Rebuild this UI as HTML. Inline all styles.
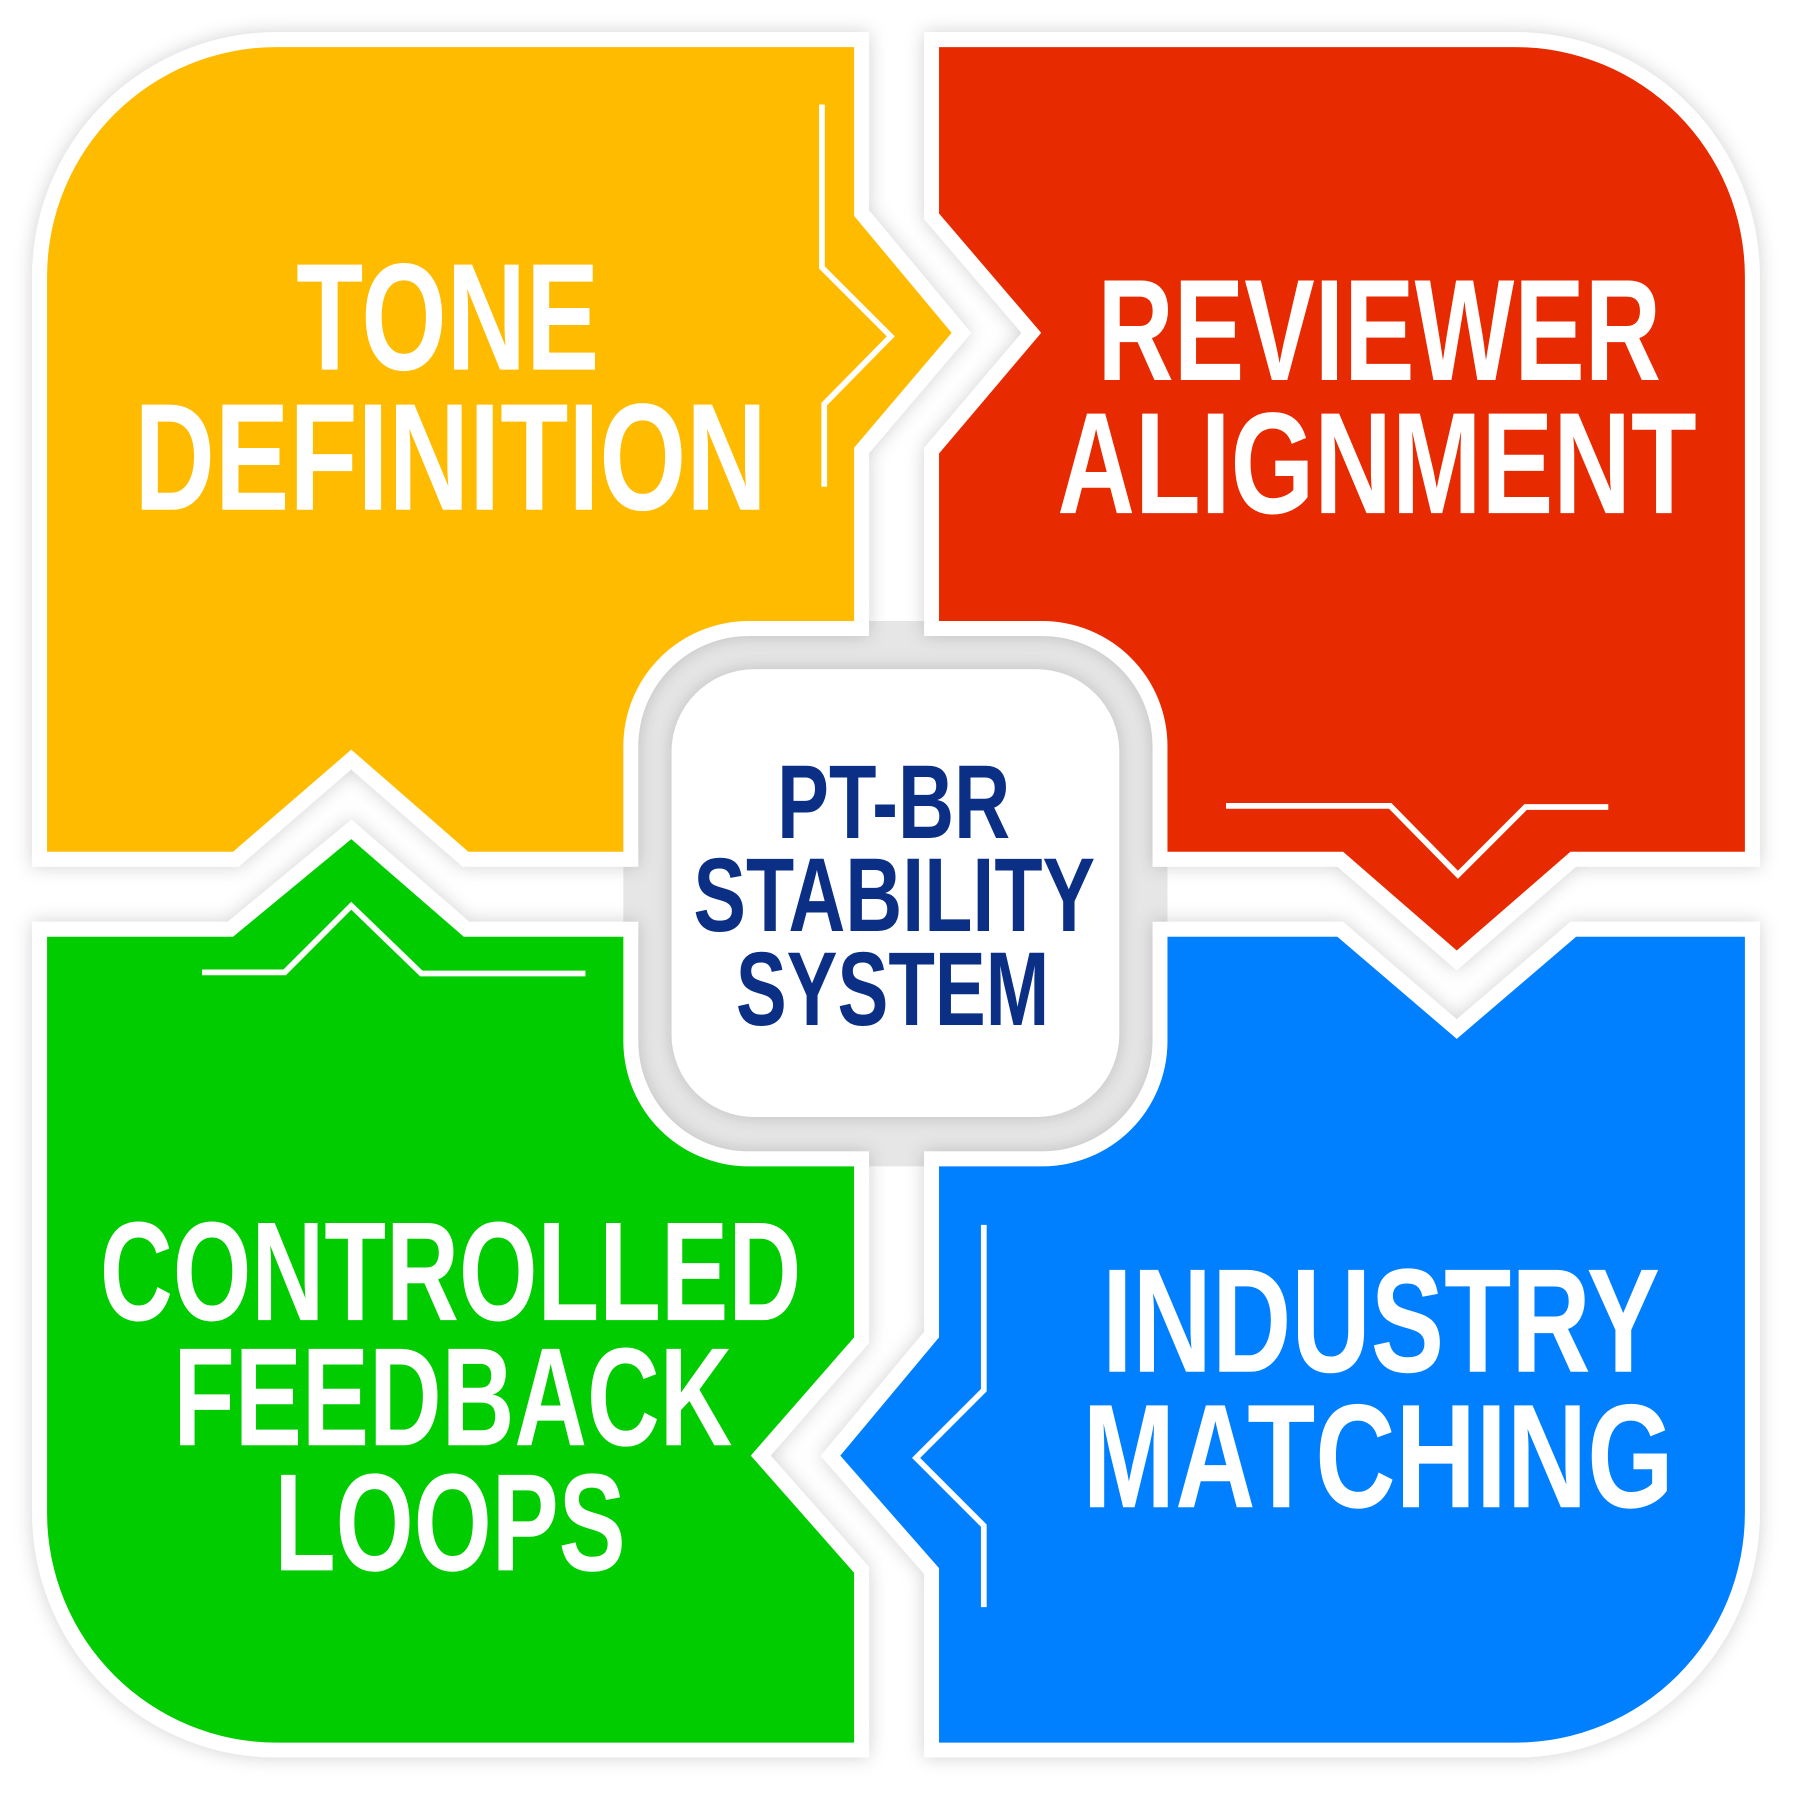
<!DOCTYPE html>
<html><head><meta charset="utf-8"><style>
html,body{margin:0;padding:0;background:#fff;}
svg{display:block}
text{font-family:"Liberation Sans Narrow","Liberation Sans",sans-serif;font-weight:bold;}
</style></head><body>
<svg width="1800" height="1800" viewBox="0 0 1568 1568" xmlns="http://www.w3.org/2000/svg">
<defs>
<filter id="sh" x="-10%" y="-10%" width="120%" height="120%">
<feDropShadow dx="0" dy="0" stdDeviation="8" flood-color="#000" flood-opacity="0.18"/>
</filter>
</defs>
<rect width="1568" height="1568" fill="#fff"/>
<rect x="543" y="541" width="474" height="475" rx="109" fill="#e6e6e6"/>
<g filter="url(#sh)" stroke="#fff" stroke-width="26" stroke-linejoin="miter" paint-order="stroke">
<path fill="#FFBB00" d="M41,240 A200,200 0 0 1 241,41 L744,41 L744,188 L829,290 L744,390 L744,541 L652,541 A109,109 0 0 0 543,650 L543,742 L408,742 L306,653 L203,742 L41,742 Z"/>
<path fill="#E82C00" d="M818,41 L1320,41 A200,200 0 0 1 1520,241 L1520,742 L1368,742 L1269,828 L1170,742 L1017,742 L1017,650 A109,109 0 0 0 908,541 L818,541 L818,395 L907,290 L818,186 Z"/>
<path fill="#00CC00" d="M41,816 L203,816 L306,731 L404,816 L543,816 L543,908 A109,109 0 0 0 652,1016 L744,1016 L744,1165 L654,1268 L744,1370 L744,1518 L241,1518 A200,200 0 0 1 41,1318 Z"/>
<path fill="#007FFF" d="M818,1016 L908,1016 A109,109 0 0 0 1017,908 L1017,816 L1165,816 L1269,905 L1373,816 L1520,816 L1520,1318 A200,200 0 0 1 1320,1518 L818,1518 L818,1366 L732,1268 L818,1165 Z"/>
</g>
<rect x="585" y="583" width="390" height="390" rx="72" fill="#fff" filter="url(#sh)"/>
<g fill="none" stroke="#fff" stroke-width="5">
<polyline points="716,91 716,233 776,293 718,352 718,424"/>
<polyline points="1068,702 1211,702 1270,762 1329,703 1401,703"/>
<polyline points="176,847 248,847 306,789 367,848 510,848"/>
<polyline points="857,1067 857,1211 798,1270 857,1329 857,1400"/>
</g>
<g fill="#fff" font-size="133">
<text x="258" y="322" textLength="264" lengthAdjust="spacingAndGlyphs">TONE</text>
<text x="117" y="444" textLength="551" lengthAdjust="spacingAndGlyphs">DEFINITION</text>
<text x="956" y="331" textLength="491" lengthAdjust="spacingAndGlyphs" font-size="126">REVIEWER</text>
<text x="921" y="447" textLength="557" lengthAdjust="spacingAndGlyphs" font-size="126">ALIGNMENT</text>
<text x="87" y="1150" textLength="611" lengthAdjust="spacingAndGlyphs" font-size="123">CONTROLLED</text>
<text x="151" y="1259" textLength="487" lengthAdjust="spacingAndGlyphs" font-size="122">FEEDBACK</text>
<text x="239" y="1368" textLength="306" lengthAdjust="spacingAndGlyphs" font-size="121">LOOPS</text>
<text x="960" y="1195" textLength="486" lengthAdjust="spacingAndGlyphs" font-size="129">INDUSTRY</text>
<text x="943" y="1313" textLength="515" lengthAdjust="spacingAndGlyphs" font-size="129">MATCHING</text>
</g>
<g fill="#0a2f84" font-size="91">
<text x="677" y="730" textLength="203" lengthAdjust="spacingAndGlyphs">PT-BR</text>
<text x="604" y="811" textLength="350" lengthAdjust="spacingAndGlyphs">STABILITY</text>
<text x="641" y="893" textLength="273" lengthAdjust="spacingAndGlyphs">SYSTEM</text>
</g>
</svg>
</body></html>
